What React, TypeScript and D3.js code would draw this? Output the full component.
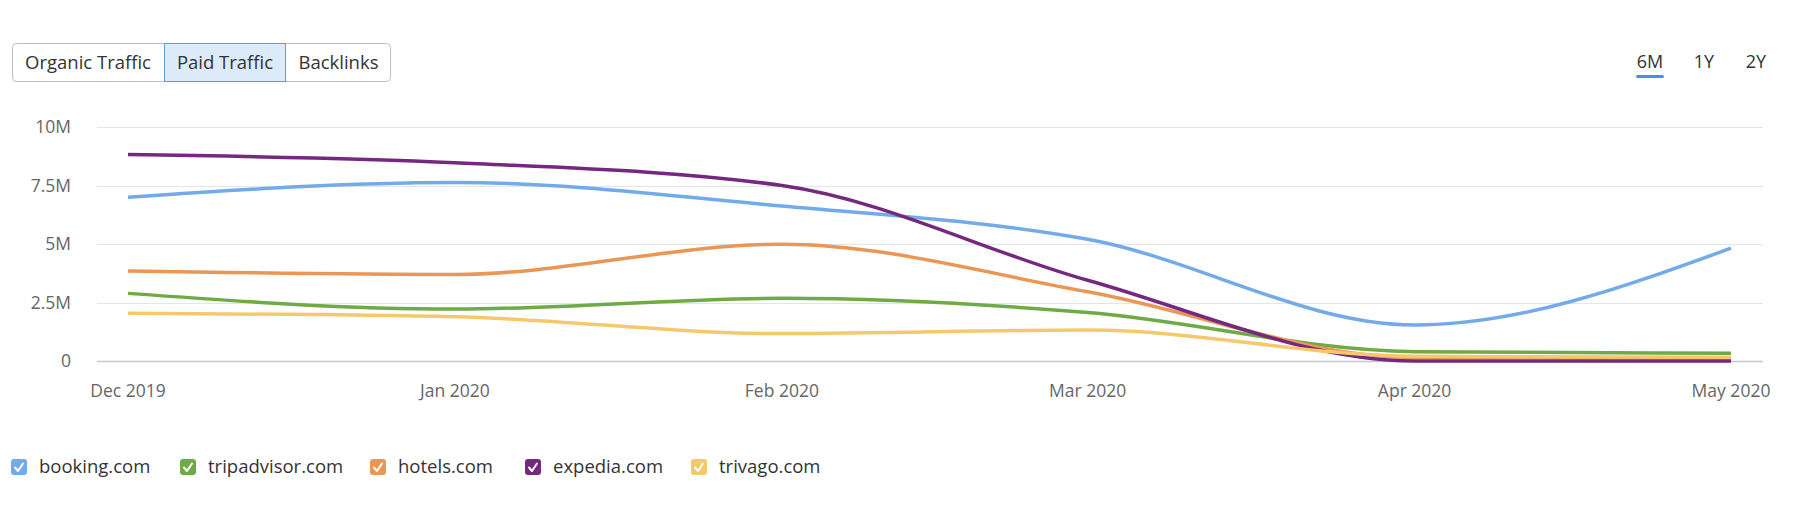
import React from "react";
import * as d3 from "d3";

const months = ["2019-12-01", "2020-01-01", "2020-02-01", "2020-03-01", "2020-04-01", "2020-05-01"];
const monthLabels = ["Dec 2019", "Jan 2020", "Feb 2020", "Mar 2020", "Apr 2020", "May 2020"];
const yTicks = [0, 2.5e6, 5e6, 7.5e6, 10e6];
const yTickLabels = ["0", "2.5M", "5M", "7.5M", "10M"];

const seriesNames = ["booking.com", "tripadvisor.com", "hotels.com", "expedia.com", "trivago.com"];
const seriesColors = ["#73abea", "#6eaa46", "#ea9655", "#74287f", "#f5c86b"];
const booking = [7.0e6, 7.63e6, 6.62e6, 5.2e6, 1.54e6, 4.82e6];
const tripadvisor = [2.89e6, 2.22e6, 2.68e6, 2.07e6, 0.4e6, 0.33e6];
const hotels = [3.85e6, 3.7e6, 4.99e6, 2.96e6, 0.15e6, 0.14e6];
const expedia = [8.82e6, 8.47e6, 7.5e6, 3.45e6, 0.0, 0.0];
const trivago = [2.04e6, 1.89e6, 1.17e6, 1.32e6, 0.2e6, 0.16e6];
const seriesValues = [booking, tripadvisor, hotels, expedia, trivago];

const tabs = ["Organic Traffic", "Paid Traffic", "Backlinks"];
const selectedTab = 1;
const periods = ["6M", "1Y", "2Y"];

const FONT = "'Open Sans', 'Noto Sans', sans-serif";

export default function App() {
  const W = 1800, H = 508;
  const dates = months.map((m) => new Date(m + "T00:00:00"));
  const x = d3.scaleTime().domain([dates[0], dates[dates.length - 1]]).range([128, 1731]);
  const y = d3.scaleLinear().domain([0, 10e6]).range([361, 127]);
  const line = d3
    .line<number>()
    .x((_, i) => x(dates[i]))
    .y((v) => y(v))
    .curve(d3.curveMonotoneX);

  const tabEdges = [12, 164, 286, 391];
  const periodX = [1650, 1704, 1756];
  const legendX = [11, 180, 370, 525, 691];

  return (
    <svg
      width={W}
      height={H}
      style={{ position: "absolute", left: 0, top: 0, background: "#fff" }}
      fontFamily={FONT}
    >
      {/* tabs */}
      <rect x={tabEdges[0] + 0.5} y={43.5} width={tabEdges[3] - tabEdges[0] - 1} height={38} rx={4} fill="#fff" stroke="#b8bfc5" />
      {tabs.map((t, i) => {
        const x0 = tabEdges[i], x1 = tabEdges[i + 1];
        return (
          <g key={t}>
            {i === selectedTab && (
              <rect x={x0 + 0.5} y={43.5} width={x1 - x0 - 1} height={38} fill="#dceafa" stroke="#5b9ee0" />
            )}
            {i > 0 && i !== selectedTab && i - 1 !== selectedTab && (
              <line x1={x0 + 0.5} x2={x0 + 0.5} y1={44} y2={81} stroke="#b8bfc5" />
            )}
            <text x={(x0 + x1) / 2} y={62.5} dy="0.35em" textAnchor="middle" fontSize={18.5} fill="#333">
              {t}
            </text>
          </g>
        );
      })}

      {/* periods */}
      {periods.map((p, i) => (
        <text key={p} x={periodX[i]} y={62} dy="0.35em" textAnchor="middle" fontSize={18} fill="#333">
          {p}
        </text>
      ))}
      <rect x={1636} y={75} width={28} height={3} rx={1.5} fill="#4a90e2" />

      {/* grid */}
      {yTicks.map((t, i) => (
        <g key={t}>
          <line
            x1={97}
            x2={1763}
            y1={Math.round(y(t)) + 0.5}
            y2={Math.round(y(t)) + 0.5}
            stroke={t === 0 ? "#c3c8cd" : "#e3e6e9"}
            strokeWidth={t === 0 ? 1.5 : 1.2}
          />
          <text x={71} y={y(t)} dy="0.35em" textAnchor="end" fontSize={17.5} fill="#666">
            {yTickLabels[i]}
          </text>
        </g>
      ))}

      {/* x labels */}
      {dates.map((d, i) => (
        <text key={i} x={x(d)} y={391} dy="0.35em" textAnchor="middle" fontSize={17.5} fill="#666">
          {monthLabels[i]}
        </text>
      ))}

      {/* lines */}
      {seriesValues.map((vals, i) => (
        <path
          key={seriesNames[i]}
          d={line(vals) || ""}
          fill="none"
          stroke={seriesColors[i]}
          strokeWidth={3.5}
          strokeLinejoin="round"
        />
      ))}

      {/* legend */}
      {seriesNames.map((n, i) => (
        <g key={n} transform={`translate(${legendX[i]},${467})`}>
          <rect x={0} y={-8} width={16} height={16} rx={3} fill={seriesColors[i]} />
          <path d="M4,0.5 L7,4 L12,-3.5" fill="none" stroke="#fff" strokeWidth={2} strokeLinecap="round" strokeLinejoin="round" />
          <text x={28} y={0} dy="0.35em" fontSize={18.5} fill="#333">
            {n}
          </text>
        </g>
      ))}
    </svg>
  );
}
